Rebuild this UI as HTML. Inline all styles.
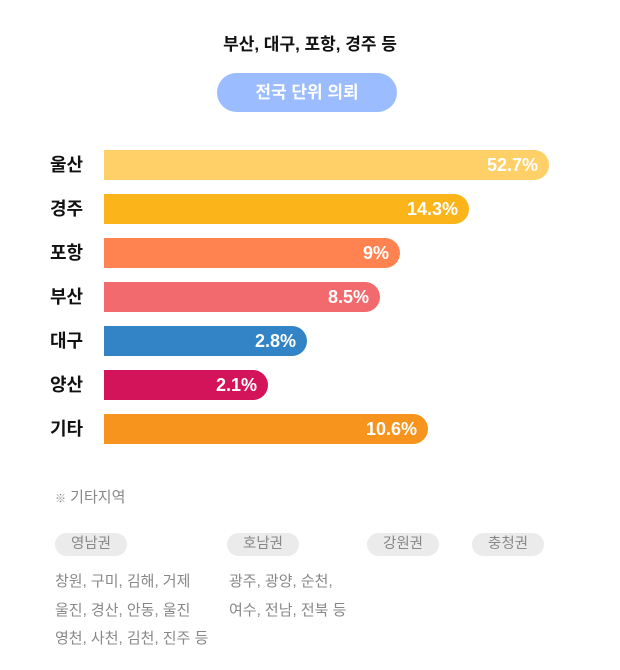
<!DOCTYPE html>
<html><head><meta charset="utf-8"><style>
body{margin:0;width:620px;height:670px;background:#fff;font-family:"Liberation Sans","Noto Sans CJK KR",sans-serif;position:relative;overflow:hidden}
.abs{position:absolute}
.title{left:0;width:620px;top:30px;text-align:center;font-size:17px;font-weight:bold;color:#111}
.btn{left:217px;top:73px;width:180px;height:39px;border-radius:20px;background:#9bbcff;color:#fff;font-weight:bold;font-size:17px;line-height:39px;text-align:center}
.lbl{left:50px;font-size:18px;font-weight:bold;color:#111;line-height:30px}
.bar{left:104px;height:30px;border-radius:0 15px 15px 0}
.val{color:#fff;font-weight:bold;font-size:18px;line-height:30px;text-align:right;position:absolute;right:11px;top:0}
.note{left:55px;top:486px;font-size:15px;color:#888}
.note small{font-size:11px}
.pill{top:533px;width:72px;height:23px;border-radius:12px;background:#ebebeb;color:#888;font-size:14.5px;line-height:23px;text-align:center}
.txt{font-size:15px;color:#888;line-height:28.5px;top:568px}
</style></head><body>
<div class="abs title">부산, 대구, 포항, 경주 등</div>
<div class="abs btn">전국 단위 의뢰</div>
<div id="chart"></div>
<div class="abs note"><small>※</small> 기타지역</div>
<div class="abs pill" style="left:55px">영남권</div>
<div class="abs pill" style="left:227px">호남권</div>
<div class="abs pill" style="left:367px">강원권</div>
<div class="abs pill" style="left:472px">충청권</div>
<div class="abs txt" style="left:55px">창원, 구미, 김해, 거제<br>울진, 경산, 안동, 울진<br>영천, 사천, 김천, 진주 등</div>
<div class="abs txt" style="left:229px">광주, 광양, 순천,<br>여수, 전남, 전북 등</div>
<script>
const categories=["울산","경주","포항","부산","대구","양산","기타"];
const values=[52.7,14.3,9,8.5,2.8,2.1,10.6];
const valueLabels=["52.7%","14.3%","9%","8.5%","2.8%","2.1%","10.6%"];
const colors=["#ffd068","#fbb51b","#ff8350","#f26a6e","#3284c6","#d4145a","#f6941d"];
const scaleDomain=[0,2.1,2.8,8.5,9,10.6,14.3,52.7,100];
const scaleRange=[0,164,203,276,296,324,365,445,520];
function xScale(v){
  for(let i=1;i<scaleDomain.length;i++){
    if(v<=scaleDomain[i]){const d0=scaleDomain[i-1],d1=scaleDomain[i],r0=scaleRange[i-1],r1=scaleRange[i];return r0+(v-d0)/(d1-d0)*(r1-r0);}
  }
  return scaleRange[scaleRange.length-1];
}
function yScale(i){return 150+i*44;}
const chart=document.getElementById('chart');
categories.forEach((c,i)=>{
  const l=document.createElement('div');
  l.className='abs lbl';l.style.top=yScale(i)+'px';l.textContent=c;
  
  
  chart.appendChild(l);
  const b=document.createElement('div');
  b.className='abs bar';b.style.top=yScale(i)+'px';b.style.width=xScale(values[i])+'px';b.style.background=colors[i];
  
  
  const v=document.createElement('span');v.className='val';v.textContent=valueLabels[i];
  
  
  b.appendChild(v);chart.appendChild(b);
});
</script>
</body></html>
